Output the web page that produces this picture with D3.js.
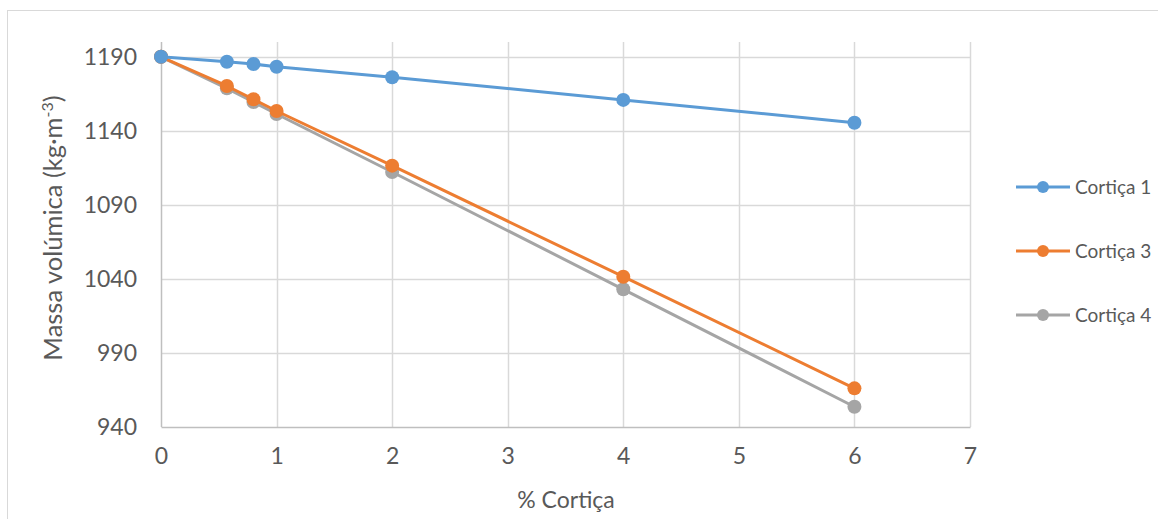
<!DOCTYPE html>
<html>
<head>
<meta charset="utf-8">
<script src="https://cdn.jsdelivr.net/npm/d3@7"></script>
<style>
  html, body { margin: 0; padding: 0; background: #fff; }
  svg { display: block; font-family: Lato, "Open Sans", sans-serif; }
</style>
</head>
<body>
<svg id="chart" width="1158" height="519"></svg>
<script>
// Cork content (%) and density for each cork type
const corkPercent = [0, 0.57, 0.8, 1, 2, 4, 6];
const cortica1 = [1190, 1186.7, 1185.1, 1183.3, 1176.2, 1160.9, 1145.5];
const cortica3 = [1190, 1170.3, 1161.3, 1153.4, 1116.5, 1041.5, 966.1];
const cortica4 = [1190, 1168.7, 1159.5, 1151.4, 1112.2, 1033.0, 953.7];
const seriesNames = ["Cortiça 1", "Cortiça 3", "Cortiça 4"];
const seriesColors = ["#5b9bd5", "#ed7d31", "#a5a5a5"];
const xTicks = [0, 1, 2, 3, 4, 5, 6, 7];
const yTicks = [940, 990, 1040, 1090, 1140, 1190];

const svg = d3.select("#chart");

// chart frame
svg.append("rect")
  .attr("x", 7.5).attr("y", 10.5)
  .attr("width", 1160).attr("height", 520)
  .attr("fill", "none").attr("stroke", "#d9d9d9").attr("stroke-width", 1);

const x = d3.scaleLinear().domain([0, 7]).range([161, 970]);
const y = d3.scaleLinear().domain([940, 1200]).range([427, 42]);

// gridlines
const grid = svg.append("g");
grid.selectAll(".vg").data(xTicks.slice(1)).join("line")
  .attr("x1", d => Math.round(x(d)) + 0.5).attr("x2", d => Math.round(x(d)) + 0.5)
  .attr("y1", y.range()[1]).attr("y2", y.range()[0])
  .attr("stroke", "#d9d9d9").attr("stroke-width", 1.5);
grid.selectAll(".hg").data(yTicks.slice(1)).join("line")
  .attr("x1", x.range()[0]).attr("x2", x.range()[1])
  .attr("y1", d => Math.round(y(d)) + 0.5).attr("y2", d => Math.round(y(d)) + 0.5)
  .attr("stroke", "#d9d9d9").attr("stroke-width", 1.5);

// axes
const xAxis = svg.append("g")
  .attr("transform", `translate(0,${y(940)})`)
  .call(d3.axisBottom(x).tickValues(xTicks).tickSize(0).tickPadding(27).tickFormat(d3.format("d")));
const yAxis = svg.append("g")
  .attr("transform", `translate(${x(0)},0)`)
  .call(d3.axisLeft(y).tickValues(yTicks).tickSize(0).tickPadding(24).tickFormat(d3.format("d")));
[xAxis, yAxis].forEach(a => {
  a.select(".domain").attr("stroke", "#bfbfbf").attr("stroke-width", 1.5);
  a.selectAll("text").attr("fill", "#595959").style("font-size", "23px")
    .style("font-family", "Lato, 'Open Sans', sans-serif");
});
yAxis.select(".domain").attr("d", `M0.5,${y.range()[1]}V${y.range()[0]}`);
xAxis.selectAll("text").attr("dy", "0.45em");

// axis titles
svg.append("text")
  .attr("x", 566).attr("y", 508)
  .attr("text-anchor", "middle")
  .attr("fill", "#595959").style("font-size", "23px")
  .text("% Cortiça");

const yTitle = svg.append("text")
  .attr("transform", "translate(62,228) rotate(-90)")
  .attr("text-anchor", "middle")
  .attr("fill", "#595959").style("font-size", "25.5px");
yTitle.append("tspan").text("Massa volúmica (kg·m");
yTitle.append("tspan").attr("baseline-shift", "super").style("font-size", "16px").text("-3");
yTitle.append("tspan").text(")");

// series
const data = [cortica1, cortica3, cortica4];
const line = d3.line().x((d, i) => x(corkPercent[i])).y(d => y(d));
// draw in reverse so the first series sits on top where they overlap
[2, 1, 0].forEach(k => {
  const g = svg.append("g");
  g.append("path").datum(data[k])
    .attr("d", line).attr("fill", "none")
    .attr("stroke", seriesColors[k]).attr("stroke-width", 3).attr("stroke-linejoin", "round");
  g.selectAll("circle").data(data[k]).join("circle")
    .attr("cx", (d, i) => x(corkPercent[i])).attr("cy", d => y(d))
    .attr("r", 7).attr("fill", seriesColors[k]);
});

// legend
const legend = svg.append("g");
seriesNames.forEach((name, k) => {
  const ly = 187 + k * 64;
  legend.append("line").attr("x1", 1016).attr("x2", 1070).attr("y1", ly).attr("y2", ly)
    .attr("stroke", seriesColors[k]).attr("stroke-width", 3);
  legend.append("circle").attr("cx", 1043).attr("cy", ly).attr("r", 6).attr("fill", seriesColors[k]);
  legend.append("text").attr("x", 1075).attr("y", ly).attr("dy", "0.35em")
    .attr("fill", "#595959").style("font-size", "19px").text(name);
});
</script>
</body>
</html>
